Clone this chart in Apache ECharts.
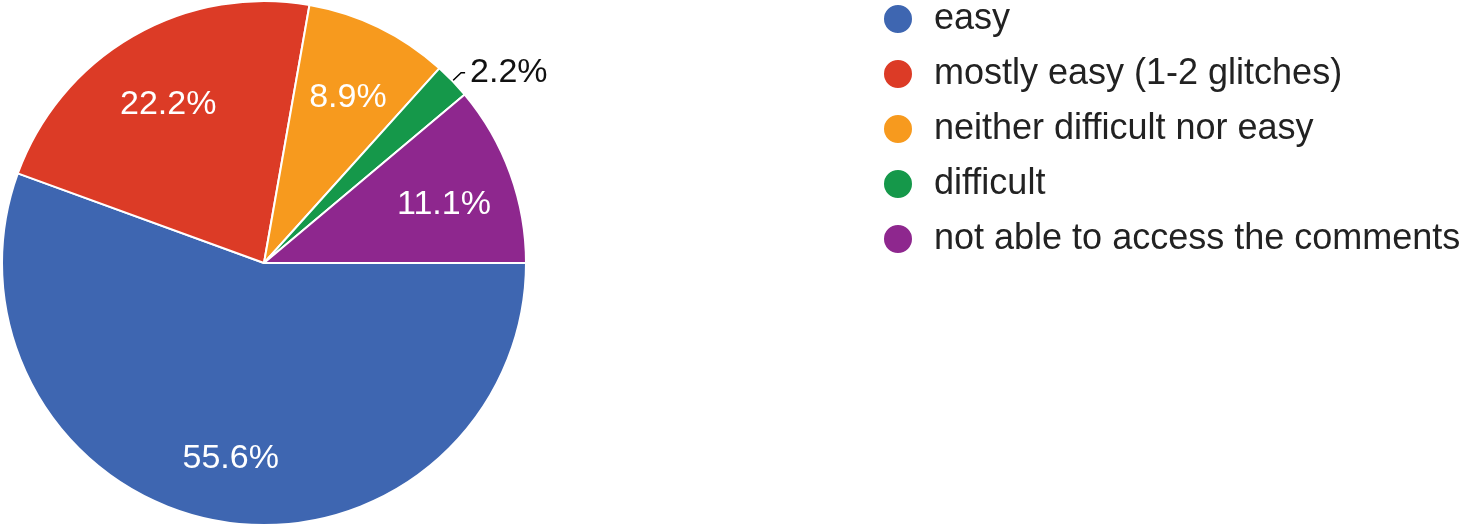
<!DOCTYPE html>
<html>
<head>
<meta charset="utf-8">
<script src="https://cdn.jsdelivr.net/npm/echarts@6/dist/echarts.min.js"></script>
<style>html,body{margin:0;padding:0;background:#fff;}#c{width:1466px;height:526px;}</style>
</head>
<body>
<div id="c"></div>
<script>
const categories = ['easy', 'mostly easy (1-2 glitches)', 'neither difficult nor easy', 'difficult', 'not able to access the comments'];
const counts = [25, 10, 4, 1, 5];
const colors = ['#3e66b1', '#dc3b26', '#f79a1e', '#15984a', '#8e278e'];
const outsideLabel = 'difficult';

const font = '"Liberation Sans", Arial, sans-serif';
const total = counts.reduce((a, b) => a + b, 0);
const fmt = p => (p.value / total * 100).toFixed(1) + '%';

const mainData = categories.map((name, i) => ({
  name, value: counts[i],
  label: name === outsideLabel ? { show: true } : { show: false },
  labelLine: { show: name === outsideLabel }
}));
const overlayData = categories.map((name, i) => ({
  name, value: counts[i],
  label: { show: name !== outsideLabel }
}));

const chart = echarts.init(document.getElementById('c'), null, { renderer: 'canvas' });
chart.setOption({
  animation: false,
  color: colors,
  legend: {
    orient: 'vertical',
    left: 882,
    top: 1,
    padding: 0,
    icon: 'circle',
    itemWidth: 30,
    itemHeight: 30,
    itemGap: 19,
    data: categories,
    textStyle: { fontFamily: font, fontSize: 36, color: '#222', lineHeight: 30, padding: [0, 0, 0, 16] }
  },
  series: [
    {
      type: 'pie',
      center: [264, 263],
      radius: 262,
      startAngle: 0,
      clockwise: true,
      avoidLabelOverlap: false,
      itemStyle: { borderColor: '#fff', borderWidth: 2 },
      label: { position: 'outside', formatter: fmt, fontFamily: font, fontSize: 34, color: '#111', padding: [0, 0, 22, 0] },
      labelLine: { length: 12, length2: 4, lineStyle: { color: '#000', width: 1.5 } },
      emphasis: { disabled: true },
      data: mainData
    },
    {
      type: 'pie',
      center: [264, 263],
      radius: [115, 262],
      startAngle: 0,
      clockwise: true,
      silent: true,
      avoidLabelOverlap: false,
      itemStyle: { color: 'rgba(0,0,0,0)', borderWidth: 0 },
      label: { position: 'inside', formatter: fmt, fontFamily: font, fontSize: 34, color: '#fff', offset: [0, 7] },
      labelLine: { show: false },
      emphasis: { disabled: true },
      data: overlayData
    }
  ]
});
</script>
</body>
</html>
